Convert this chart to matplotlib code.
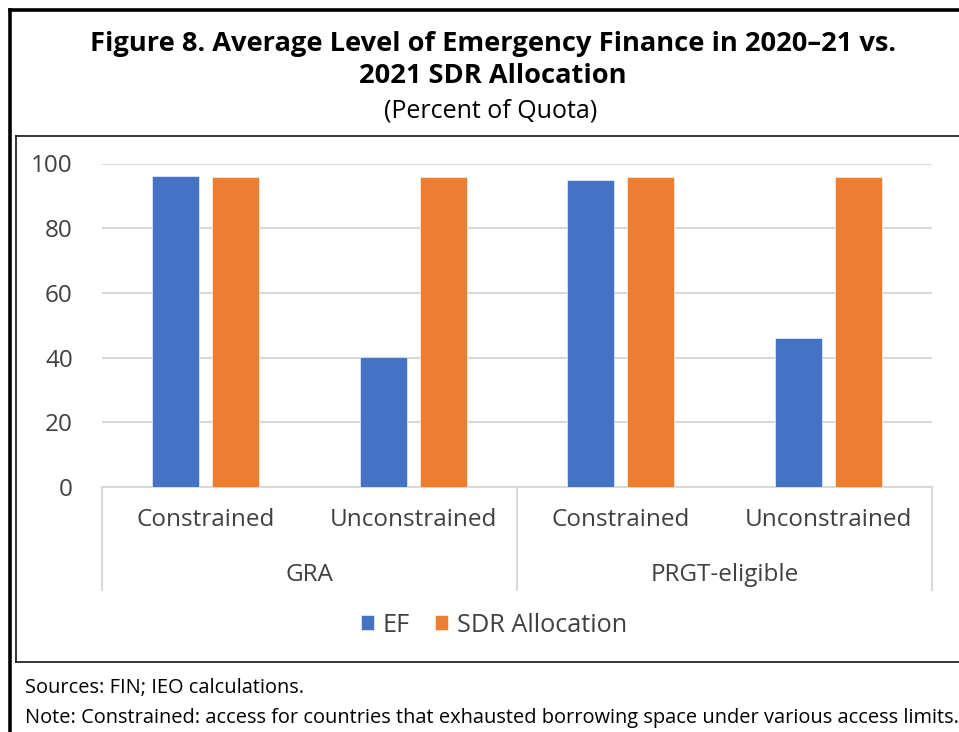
import numpy as np
import matplotlib.pyplot as plt
from matplotlib.lines import Line2D

plt.rcParams["font.family"] = ["Open Sans", "DejaVu Sans"]

subgroups = ["Constrained", "Unconstrained", "Constrained", "Unconstrained"]
groups = ["GRA", "PRGT-eligible"]
ef_values = [96.2, 40.1, 94.8, 46.2]
sdr_values = [95.9, 95.9, 95.9, 95.9]

BLUE = "#4472C4"
ORANGE = "#ED7D31"
GRID = "#D9D9D9"
TEXT = "#404040"

W, H = 959, 732
fig = plt.figure(figsize=(W / 100, H / 100), dpi=100)


def fx(px):
    return px / W


def fy(py):
    return 1 - py / H


# frame lines around the exhibit
fig.add_artist(Line2D([fx(10), fx(10)], [fy(10), fy(732)], color="black", lw=2.6))
fig.add_artist(Line2D([fx(10), fx(959)], [fy(10), fy(10)], color="black", lw=2.6))
fig.add_artist(Line2D([fx(15.8), fx(15.8)], [fy(135.5), fy(662)], color="black", lw=1.1))
fig.add_artist(Line2D([fx(15.8), fx(959)], [fy(135.5), fy(135.5)], color="black", lw=1.1))
fig.add_artist(Line2D([fx(15.8), fx(959)], [fy(662), fy(662)], color="black", lw=1.1))

# titles
fig.text(fx(493), fy(44), "Figure 8. Average Level of Emergency Finance in 2020\u201321 vs.",
         ha="center", va="center", fontsize=19.6, fontweight="bold", color="black")
fig.text(fx(493), fy(76), "2021 SDR Allocation",
         ha="center", va="center", fontsize=19.6, fontweight="bold", color="black")
fig.text(fx(491), fy(111), "(Percent of Quota)",
         ha="center", va="center", fontsize=18, color="black")

ax_left, ax_right, ax_top, ax_bottom = 102, 932, 163.5, 487
ax = fig.add_axes([fx(ax_left), fy(ax_bottom), fx(ax_right - ax_left), (ax_bottom - ax_top) / H])

x = np.arange(len(subgroups))
bw = 0.227
gap = 0.062
ax.bar(x - (bw + gap) / 2, ef_values, bw, color=BLUE, edgecolor="white", linewidth=0.4, label="EF", zorder=3)
ax.bar(x + (bw + gap) / 2, sdr_values, bw, color=ORANGE, edgecolor="white", linewidth=0.4,
       label="SDR Allocation", zorder=3)

ax.set_xlim(-0.5, 3.5)
ax.set_ylim(0, 100)
ax.set_yticks(np.arange(0, 101, 20))
ax.yaxis.grid(True, color=GRID, lw=1.5, zorder=0)
ax.tick_params(axis="y", length=0, pad=21, labelsize=17.5, labelcolor=TEXT)
ax.set_xticks([])
for s in ["top", "right", "left"]:
    ax.spines[s].set_visible(False)
ax.spines["bottom"].set_color(GRID)
ax.spines["bottom"].set_linewidth(1.5)

# multi-level category axis
depth = (590 - ax_bottom) / (ax_bottom - ax_top)
for xd in [-0.5, 1.5, 3.5]:
    ax.plot([xd, xd], [0, -depth], transform=ax.get_xaxis_transform(), color=GRID,
            lw=1.5, clip_on=False)
lab_y = -(520 - ax_bottom) / (ax_bottom - ax_top)
grp_y = -(575 - ax_bottom) / (ax_bottom - ax_top)
for xi, lab in zip(x, subgroups):
    ax.text(xi, lab_y, lab, transform=ax.get_xaxis_transform(), ha="center", va="center",
            fontsize=17.5, color=TEXT)
for xi, lab in zip([0.5, 2.5], groups):
    ax.text(xi, grp_y, lab, transform=ax.get_xaxis_transform(), ha="center", va="center",
            fontsize=17.5, color=TEXT)

fig.legend(loc="center", bbox_to_anchor=(fx(494), fy(625)), ncol=2, frameon=False,
           fontsize=18.2, handlelength=0.5, handleheight=0.5, handletextpad=0.35,
           columnspacing=1.0, labelcolor=TEXT)

fig.text(fx(25), fy(688), "Sources: FIN; IEO calculations.", ha="left", va="center",
         fontsize=14.4, color="black")
fig.text(fx(25), fy(718),
         "Note: Constrained: access for countries that exhausted borrowing space under various access limits.",
         ha="left", va="center", fontsize=14.4, color="black")

fig.savefig("out.png", dpi=100)
